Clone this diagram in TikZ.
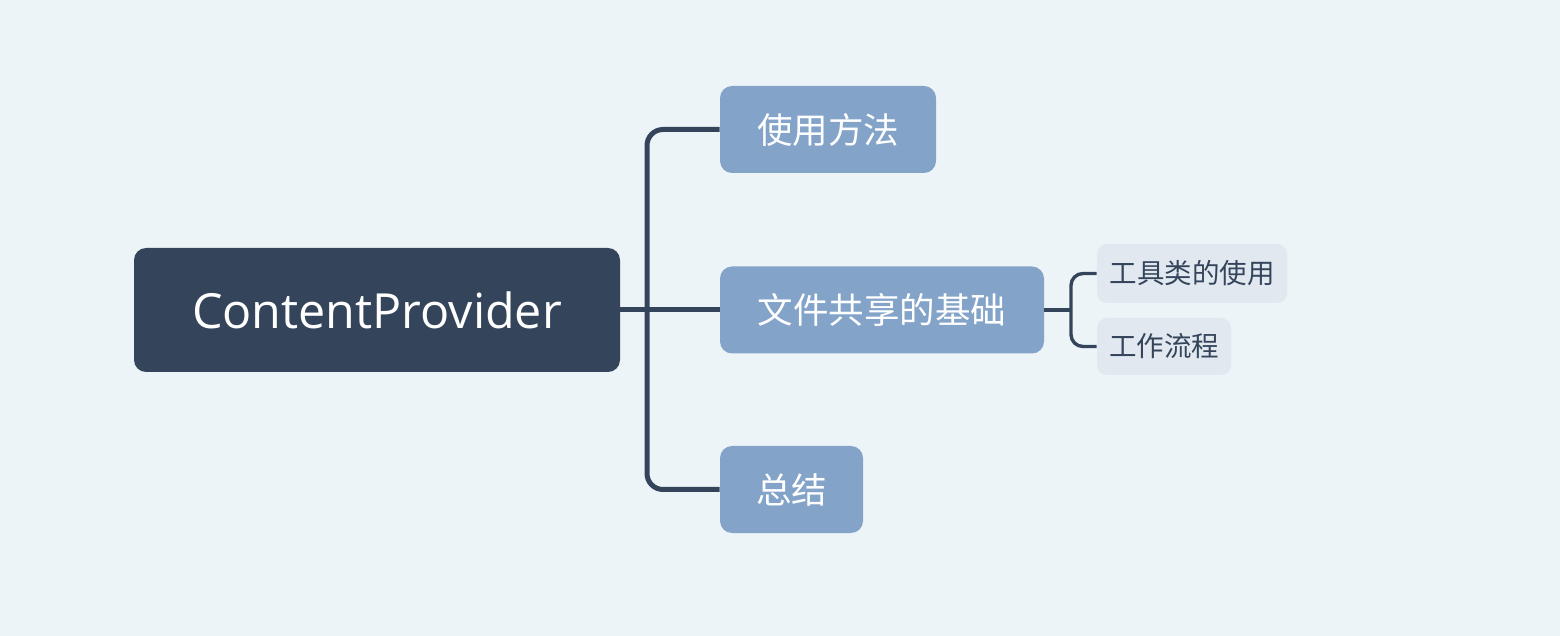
\documentclass[tikz,border=0pt]{standalone}
\usepackage{fontspec}
\setmainfont{Open Sans}
\newfontfamily\cjk{Noto Sans CJK SC}
\definecolor{bgc}{HTML}{EDF4F8}
\definecolor{rootc}{HTML}{34455B}
\definecolor{branchc}{HTML}{83A3C9}
\definecolor{subc}{HTML}{E2E8F0}
\begin{document}
\begin{tikzpicture}[x=0.5pt,y=-0.5pt,
  rootbox/.style={fill=rootc,rounded corners=6pt,text=white,minimum height=62pt,inner sep=0pt,font=\fontsize{24.2pt}{28pt}\selectfont},
  branchbox/.style={fill=branchc,rounded corners=6pt,text=white,minimum height=43.5pt,inner sep=0pt,font=\cjk\fontsize{17.75pt}{20pt}\selectfont},
  subbox/.style={fill=subc,rounded corners=5pt,text=rootc,inner sep=0pt,font=\cjk\fontsize{13.75pt}{16pt}\selectfont},
  conn/.style={draw=rootc,line width=2.5pt,rounded corners=8pt},
  subconn/.style={draw=rootc,line width=1.7pt,rounded corners=6pt}]
\fill[bgc] (0,0) rectangle (1560,636);
\useasboundingbox (0,0) rectangle (1560,636);
\node[rootbox,minimum width=243pt] (root) at (377,310) {ContentProvider};
\node[branchbox,minimum width=108pt] (b1) at (828,129.5) {使用方法};
\node[branchbox,minimum width=162pt] (b2) at (882,310) {文件共享的基础};
\node[branchbox,minimum width=71.5pt] (b3) at (791.5,489.5) {总结};
\node[subbox,minimum width=95pt,minimum height=29.5pt] (s1) at (1192,273.5) {工具类的使用};
\node[subbox,minimum width=67pt,minimum height=28.5pt] (s2) at (1164,346.5) {工作流程};
\coordinate (j1) at (647,310);
\coordinate (j2) at (1071,310);
\draw[conn] (root.east) -- (b2.west);
\draw[conn] (b1.west) -| (j1) |- (b3.west);
\draw[subconn] (b2.east) -- (j2);
\draw[subconn] (s1.west) -| (j2) |- (s2.west);
\end{tikzpicture}
\end{document}
